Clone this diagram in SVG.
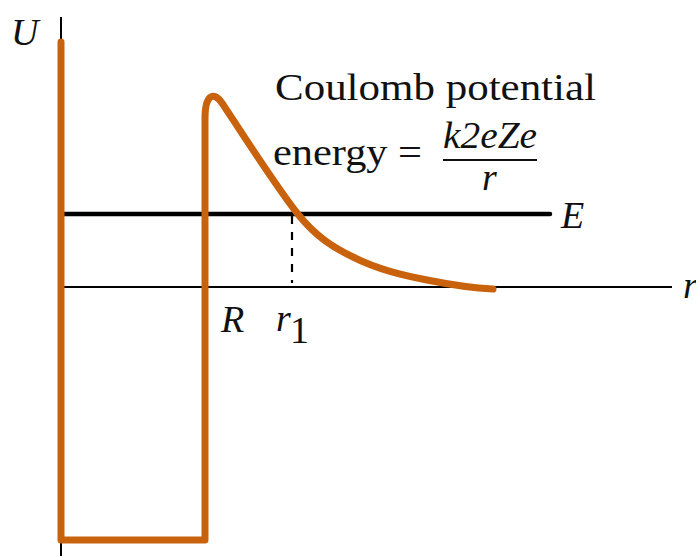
<svg xmlns="http://www.w3.org/2000/svg" width="696" height="556" viewBox="0 0 696 556">
<style>
.t{font-family:"Liberation Serif","Times New Roman",serif;font-size:38px;fill:#111}
.i{font-style:italic}
.ax{stroke:#000;fill:none}
.pot{stroke:#C9620C;stroke-width:7;fill:none;stroke-linejoin:round;stroke-linecap:round}
</style>
<rect width="696" height="556" fill="#fff"/>
<g id="axes">
<line class="ax" x1="61" y1="17" x2="61" y2="556" stroke-width="2"/>
<line class="ax" x1="61" y1="287" x2="672" y2="287" stroke-width="2"/>
</g>
<g id="connectors">
<line class="ax" x1="61" y1="214" x2="550" y2="214" stroke-width="4.5" stroke-linecap="round"/>
<line class="ax" x1="292" y1="216" x2="292" y2="283" stroke-width="2.2" stroke-dasharray="8 8"/>
</g>
<g id="potential">
<path class="pot" d="M61,42 V540 H205 V118 C205,96 213,90 222,103 C236,124 275,185 297,213 C316,237 334,248 353,257 C378,269.5 402,275 427,280 C449,284.4 471,288 493,289"/>
</g>
<g id="labels">
<text class="t i" x="11" y="45">U</text>
<text class="t i" x="221" y="332">R</text>
<text class="t i" x="276" y="331">r</text>
<text class="t" x="290" y="343" font-size="27">1</text>
<text class="t i" x="561" y="228">E</text>
<text class="t i" x="683" y="298">r</text>
</g>
<g id="formula">
<text class="t" x="275" y="100" textLength="321" lengthAdjust="spacingAndGlyphs">Coulomb potential</text>
<text class="t" x="273" y="165" textLength="149" lengthAdjust="spacingAndGlyphs">energy =</text>
<text class="t i" x="443" y="148" textLength="94" lengthAdjust="spacingAndGlyphs">k2eZe</text>
<line x1="443" y1="160" x2="537" y2="160" stroke="#111" stroke-width="2"/>
<text class="t i" x="482" y="190">r</text>
</g>
</svg>
